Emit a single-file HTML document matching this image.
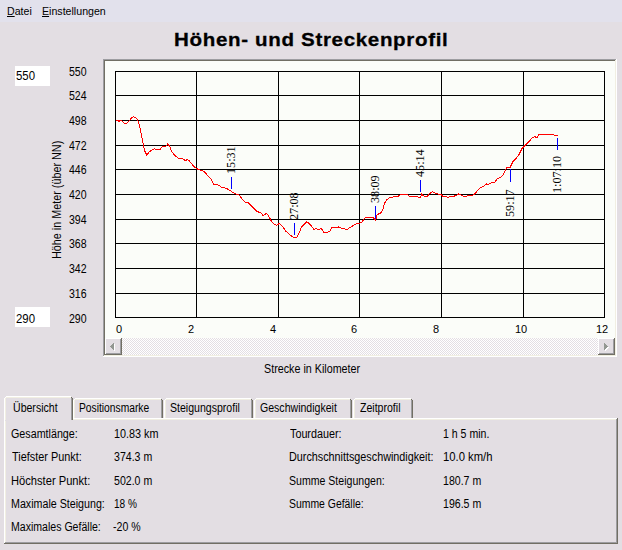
<!DOCTYPE html>
<html><head><meta charset="utf-8">
<style>
html,body{margin:0;padding:0;}
body{width:622px;height:550px;overflow:hidden;position:relative;background:#E3DEE3;font-family:"Liberation Sans",sans-serif;color:#000;}
.a{position:absolute;white-space:nowrap;}
.t{font-size:12px;line-height:12px;transform-origin:0 0;transform:scaleX(0.88);}
.m{font-size:11px;line-height:12px;transform-origin:0 0;transform:scaleX(0.965);}
.x{font-size:11px;line-height:12px;}
.d{transform:scaleX(0.95);}
.menu{position:absolute;left:0;top:0;width:622px;height:22px;background:#E2E1EC;}
.u{text-decoration:underline;}
.title{font-weight:bold;font-size:19px;line-height:20px;letter-spacing:0.62px;-webkit-text-stroke:0.3px #000;transform-origin:0 0;transform:scaleX(1.08);}
.box{position:absolute;}
.tl{font-family:"Liberation Serif",serif;font-size:13.5px;line-height:14px;transform-origin:0 0;transform:rotate(-90deg) scaleX(0.9);}
</style></head><body>
<div class="menu"></div>
<div class="a m" style="left:7px;top:5px;"><span class="u">D</span>atei</div>
<div class="a m" style="left:41.5px;top:5px;"><span class="u">E</span>instellungen</div>

<div class="a title" style="left:174px;top:30px;">Höhen- und Streckenprofil</div>

<!-- min/max boxes -->
<div class="box" style="left:15px;top:66px;width:35px;height:20px;background:#fff;"></div>
<div class="a t d" style="left:16px;top:70px;">550</div>
<div class="box" style="left:15px;top:307px;width:35px;height:20px;background:#fff;"></div>
<div class="a t d" style="left:16px;top:313px;">290</div>

<!-- y labels -->
<div class="a t" style="left:69px;top:66px;">550</div>
<div class="a t" style="left:69px;top:90px;">524</div>
<div class="a t" style="left:69px;top:115px;">498</div>
<div class="a t" style="left:69px;top:140px;">472</div>
<div class="a t" style="left:69px;top:164px;">446</div>
<div class="a t" style="left:69px;top:189px;">420</div>
<div class="a t" style="left:69px;top:214px;">394</div>
<div class="a t" style="left:69px;top:238px;">368</div>
<div class="a t" style="left:69px;top:263px;">342</div>
<div class="a t" style="left:69px;top:288px;">316</div>
<div class="a t" style="left:69px;top:313px;">290</div>

<!-- rotated y title -->
<div class="a t" style="left:51px;top:259px;transform-origin:0 0;transform:rotate(-90deg) scaleX(0.9);">Höhe in Meter (über NN)</div>

<!-- chart box -->
<div class="box" style="left:103px;top:59px;width:514px;height:298px;background:#fff;"></div>
<svg class="box" style="left:0;top:0;" width="622" height="550">
  <g shape-rendering="crispEdges">
    <rect x="103" y="59" width="513" height="1" fill="#9D9DA1"/>
    <rect x="103" y="59" width="1" height="297" fill="#9D9DA1"/>
    <rect x="104" y="60" width="511" height="1" fill="#716F64"/>
    <rect x="104" y="60" width="1" height="295" fill="#716F64"/>
    <rect x="616" y="59" width="1" height="298" fill="#FFFFFF"/>
    <rect x="103" y="356" width="514" height="1" fill="#FFFFFF"/>
    <rect x="615" y="60" width="1" height="296" fill="#F1EFE2"/>
    <rect x="104" y="355" width="512" height="1" fill="#F1EFE2"/>
    <rect x="105" y="61" width="510" height="294" fill="#FBFDF9"/>
    <!-- grid -->
    <g fill="#000">
      <rect x="115" y="71" width="1" height="247"/>
      <rect x="196" y="71" width="1" height="247"/>
      <rect x="278" y="71" width="1" height="247"/>
      <rect x="359" y="71" width="1" height="247"/>
      <rect x="441" y="71" width="1" height="247"/>
      <rect x="523" y="71" width="1" height="247"/>
      <rect x="604" y="71" width="1" height="247"/>
      <rect x="115" y="71" width="490" height="1"/>
      <rect x="115" y="95" width="490" height="1"/>
      <rect x="115" y="120" width="490" height="1"/>
      <rect x="115" y="145" width="490" height="1"/>
      <rect x="115" y="169" width="490" height="1"/>
      <rect x="115" y="194" width="490" height="1"/>
      <rect x="115" y="219" width="490" height="1"/>
      <rect x="115" y="243" width="490" height="1"/>
      <rect x="115" y="268" width="490" height="1"/>
      <rect x="115" y="293" width="490" height="1"/>
      <rect x="115" y="317" width="490" height="1"/>
    </g>
  </g>

  <path d="M115.9 120.6 L118.3 120.9 L119.1 121.9 L120.2 120.0 L121.7 120.6 L123.6 122.6 L125.8 124.0 L127.9 122.1 L129.9 120.1 L131.8 117.3 L133.7 116.8 L135.6 117.4 L137.1 119.2 L138.5 122.1 L140.0 127.9 L141.4 135.6 L142.9 142.3 L144.3 150.0 L146.7 154.9 L148.7 152.5 L150.6 151.0 L153.0 149.1 L154.9 148.9 L157.8 150.0 L160.2 149.1 L162.6 146.2 L165.1 146.7 L167.9 143.8 L169.9 146.7 L171.3 151.0 L174.1 154.8 L179.2 158.8 L183.1 159.0 L185.4 160.8 L187.1 159.7 L188.8 160.4 L192.1 164.4 L194.9 167.2 L197.8 169.1 L201.1 170.6 L203.9 171.1 L207.3 175.1 L210.7 178.5 L213.5 184.4 L217.5 184.6 L222.0 187.5 L225.9 188.2 L229.8 190.3 L233.8 193.1 L239.0 195.1 L244.6 201.8 L248.6 202.9 L251.9 206.3 L257.0 211.4 L261.5 213.1 L263.2 215.9 L264.9 214.2 L266.6 213.6 L268.3 215.3 L271.6 221.5 L275.0 224.9 L276.7 225.1 L279.5 223.5 L282.3 226.0 L285.7 231.1 L289.6 234.5 L293.6 237.5 L296.4 237.8 L299.2 232.8 L300.9 228.3 L302.5 225.9 L306.4 221.9 L308.7 223.1 L310.9 225.3 L313.8 229.3 L316.0 228.7 L318.8 229.8 L321.1 228.1 L323.9 232.6 L326.7 232.6 L329.5 231.5 L332.3 227.0 L335.7 227.6 L338.5 227.0 L341.3 228.1 L344.1 228.7 L347.0 229.8 L349.2 228.1 L352.0 226.4 L354.8 224.2 L358.8 223.6 L362.1 221.9 L365.5 217.3 L368.9 217.3 L373.3 217.7 L375.6 220.6 L376.7 215.0 L378.9 213.8 L381.2 212.7 L382.9 209.3 L384.6 203.1 L386.8 199.8 L389.6 197.5 L393.6 196.9 L398.1 196.4 L400.3 194.7 L404.3 194.7 L407.1 193.9 L409.3 196.2 L413.3 196.9 L417.8 196.9 L420.0 198.1 L421.7 194.1 L423.4 195.8 L425.6 196.9 L427.3 196.4 L429.6 193.6 L432.4 191.9 L435.2 193.0 L437.5 193.9 L440.8 194.3 L443.0 196.3 L447.5 197.1 L448.1 197.6 L449.8 196.7 L453.1 196.3 L456.5 195.6 L458.5 194.0 L461.0 194.8 L464.4 196.7 L467.8 195.9 L472.3 195.6 L474.5 194.3 L476.8 191.5 L479.6 188.4 L483.5 186.2 L486.3 183.9 L488.0 184.7 L491.4 182.8 L494.2 182.8 L497.0 179.1 L500.4 177.4 L503.8 174.0 L504.5 171.7 L506.8 167.8 L510.1 167.5 L512.9 161.6 L515.8 158.8 L519.1 154.3 L521.9 148.6 L524.8 145.8 L528.7 141.9 L532.1 137.9 L534.9 136.8 L537.1 137.6 L539.4 134.0 L542.8 134.0 L549.5 134.2 L550.6 134.9 L554.0 134.9 L556.3 135.7 L558.3 136.0" fill="none" stroke="#FF0000" stroke-width="1" shape-rendering="crispEdges"/>
  <g fill="#0000FF" shape-rendering="crispEdges">
    <rect x="231" y="177" width="1" height="12"/>
    <rect x="294" y="223" width="1" height="12"/>
    <rect x="375" y="206" width="1" height="13"/>
    <rect x="420" y="180" width="1" height="12"/>
    <rect x="510" y="169" width="1" height="13"/>
    <rect x="557" y="138" width="1" height="12"/>
  </g>
  <!-- scrollbar -->
  <defs>
    <pattern id="chk" x="0" y="0" width="2" height="2" patternUnits="userSpaceOnUse">
      <rect x="0" y="0" width="2" height="2" fill="#FFFFFF"/>
      <rect x="0" y="0" width="1" height="1" fill="#E3DEE3"/>
      <rect x="1" y="1" width="1" height="1" fill="#E3DEE3"/>
    </pattern>
  </defs>
  <g shape-rendering="crispEdges">
    <rect x="105" y="338" width="510" height="17" fill="url(#chk)"/>
    <!-- left button -->
    <rect x="105" y="338" width="17" height="17" fill="#716F64"/>
    <rect x="105" y="338" width="16" height="16" fill="#FFFFFF"/>
    <rect x="106" y="339" width="15" height="15" fill="#9D9DA1"/>
    <rect x="106" y="339" width="14" height="14" fill="#E3DEE3"/>
    <!-- right button -->
    <rect x="598" y="338" width="17" height="17" fill="#716F64"/>
    <rect x="598" y="338" width="16" height="16" fill="#FFFFFF"/>
    <rect x="599" y="339" width="15" height="15" fill="#9D9DA1"/>
    <rect x="599" y="339" width="14" height="14" fill="#E3DEE3"/>
  </g>
  <g shape-rendering="crispEdges">
    <!-- left arrow shadow -->
    <g fill="#FFFFFF">
      <rect x="114" y="344" width="1" height="7"/>
      <rect x="113" y="345" width="1" height="5"/>
      <rect x="112" y="346" width="1" height="3"/>
      <rect x="111" y="347" width="1" height="1"/>
    </g>
    <g fill="#939892">
      <rect x="113" y="343" width="1" height="7"/>
      <rect x="112" y="344" width="1" height="5"/>
      <rect x="111" y="345" width="1" height="3"/>
      <rect x="110" y="346" width="1" height="1"/>
    </g>
    <!-- right arrow shadow -->
    <g fill="#FFFFFF">
      <rect x="605" y="344" width="1" height="7"/>
      <rect x="606" y="345" width="1" height="5"/>
      <rect x="607" y="346" width="1" height="3"/>
      <rect x="608" y="347" width="1" height="1"/>
    </g>
    <g fill="#939892">
      <rect x="604" y="343" width="1" height="7"/>
      <rect x="605" y="344" width="1" height="5"/>
      <rect x="606" y="345" width="1" height="3"/>
      <rect x="607" y="346" width="1" height="1"/>
    </g>
  </g>
</svg>

<!-- x labels -->
<div class="a x" style="left:116px;top:323px;">0</div>
<div class="a x" style="left:188px;top:323px;">2</div>
<div class="a x" style="left:270px;top:323px;">4</div>
<div class="a x" style="left:351px;top:323px;">6</div>
<div class="a x" style="left:433px;top:323px;">8</div>
<div class="a x" style="left:515px;top:323px;">10</div>
<div class="a x" style="left:596px;top:323px;">12</div>

<!-- time labels -->
<div class="a tl" style="left:224px;top:174px;">15:31</div>
<div class="a tl" style="left:287px;top:220px;">27:08</div>
<div class="a tl" style="left:368px;top:203px;">38:09</div>
<div class="a tl" style="left:413px;top:177px;">45:14</div>
<div class="a tl" style="left:503px;top:217px;">59:17</div>
<div class="a tl" style="left:550px;top:193px;">1:07:10</div>

<!-- x title -->
<div class="a t" style="left:263.6px;top:363px;transform:scaleX(0.895);">Strecke in Kilometer</div>

<!-- panel -->
<svg class="box" style="left:0;top:0;" width="622" height="550">
 <g shape-rendering="crispEdges">
  <!-- panel border -->
  <rect x="4" y="418" width="614" height="126" fill="#716F64"/>
  <rect x="4" y="418" width="613" height="125" fill="#FFFFFF"/>
  <rect x="5" y="419" width="612" height="124" fill="#9D9DA1"/>
  <rect x="5" y="419" width="611" height="123" fill="#F1EFE2"/>
  <rect x="6" y="420" width="610" height="122" fill="#E3DEE3"/>
  <!-- unselected tabs -->
  <g>
   <rect x="75" y="398" width="86" height="1" fill="#FFFFFF"/>
   <rect x="74" y="399" width="1" height="1" fill="#FFFFFF"/>
   <rect x="73" y="400" width="1" height="18" fill="#FFFFFF"/>
   <rect x="75" y="399" width="86" height="1" fill="#F1EFE2"/>
   <rect x="74" y="400" width="1" height="18" fill="#F1EFE2"/>
   <rect x="161" y="399" width="1" height="1" fill="#716F64"/>
   <rect x="162" y="400" width="1" height="18" fill="#716F64"/>
   <rect x="161" y="400" width="1" height="18" fill="#9D9DA1"/>
   <rect x="166" y="398" width="85" height="1" fill="#FFFFFF"/>
   <rect x="165" y="399" width="1" height="1" fill="#FFFFFF"/>
   <rect x="164" y="400" width="1" height="18" fill="#FFFFFF"/>
   <rect x="166" y="399" width="85" height="1" fill="#F1EFE2"/>
   <rect x="165" y="400" width="1" height="18" fill="#F1EFE2"/>
   <rect x="251" y="399" width="1" height="1" fill="#716F64"/>
   <rect x="252" y="400" width="1" height="18" fill="#716F64"/>
   <rect x="251" y="400" width="1" height="18" fill="#9D9DA1"/>
   <rect x="256" y="398" width="94" height="1" fill="#FFFFFF"/>
   <rect x="255" y="399" width="1" height="1" fill="#FFFFFF"/>
   <rect x="254" y="400" width="1" height="18" fill="#FFFFFF"/>
   <rect x="256" y="399" width="94" height="1" fill="#F1EFE2"/>
   <rect x="255" y="400" width="1" height="18" fill="#F1EFE2"/>
   <rect x="350" y="399" width="1" height="1" fill="#716F64"/>
   <rect x="351" y="400" width="1" height="18" fill="#716F64"/>
   <rect x="350" y="400" width="1" height="18" fill="#9D9DA1"/>
   <rect x="355" y="398" width="56" height="1" fill="#FFFFFF"/>
   <rect x="354" y="399" width="1" height="1" fill="#FFFFFF"/>
   <rect x="353" y="400" width="1" height="18" fill="#FFFFFF"/>
   <rect x="355" y="399" width="56" height="1" fill="#F1EFE2"/>
   <rect x="354" y="400" width="1" height="18" fill="#F1EFE2"/>
   <rect x="411" y="399" width="1" height="1" fill="#716F64"/>
   <rect x="412" y="400" width="1" height="18" fill="#716F64"/>
   <rect x="411" y="400" width="1" height="18" fill="#9D9DA1"/>
  </g>
  <!-- selected tab -->
  <g>
   <rect x="5" y="397" width="66" height="24" fill="#E3DEE3"/>
   <rect x="6" y="396" width="65" height="1" fill="#FFFFFF"/>
   <rect x="5" y="397" width="1" height="1" fill="#FFFFFF"/>
   <rect x="4" y="398" width="1" height="22" fill="#FFFFFF"/>
   <rect x="6" y="397" width="65" height="1" fill="#F1EFE2"/>
   <rect x="5" y="398" width="1" height="22" fill="#F1EFE2"/>
   <rect x="71" y="397" width="1" height="1" fill="#716F64"/>
   <rect x="72" y="398" width="1" height="22" fill="#716F64"/>
   <rect x="71" y="398" width="1" height="22" fill="#9D9DA1"/>
  </g>
 </g>
</svg>

<div class="a t" style="left:13px;top:402px;">Übersicht</div>
<div class="a t" style="left:79px;top:402px;transform:scaleX(0.855);">Positionsmarke</div>
<div class="a t" style="left:170px;top:402px;">Steigungsprofil</div>
<div class="a t" style="left:260px;top:402px;">Geschwindigkeit</div>
<div class="a t" style="left:360px;top:402px;">Zeitprofil</div>

<div class="a t" style="left:10.98px;top:428px;transform:scaleX(0.894);">Gesamtlänge:</div>
<div class="a t" style="left:12.00px;top:451px;transform:scaleX(0.907);">Tiefster Punkt:</div>
<div class="a t" style="left:10.94px;top:475px;transform:scaleX(0.929);">Höchster Punkt:</div>
<div class="a t" style="left:10.99px;top:498px;transform:scaleX(0.890);">Maximale Steigung:</div>
<div class="a t" style="left:11.00px;top:521px;transform:scaleX(0.880);">Maximales Gefälle:</div>

<div class="a t" style="left:113.98px;top:428px;transform:scaleX(0.901);">10.83 km</div>
<div class="a t" style="left:114.00px;top:451px;transform:scaleX(0.881);">374.3 m</div>
<div class="a t" style="left:114.00px;top:475px;transform:scaleX(0.881);">502.0 m</div>
<div class="a t" style="left:114.05px;top:498px;transform:scaleX(0.840);">18 %</div>
<div class="a t" style="left:113.00px;top:521px;transform:scaleX(0.880);">-20 %</div>

<div class="a t" style="left:290.00px;top:428px;transform:scaleX(0.898);">Tourdauer:</div>
<div class="a t" style="left:288.98px;top:451px;transform:scaleX(0.899);">Durchschnittsgeschwindigkeit:</div>
<div class="a t" style="left:289.00px;top:475px;transform:scaleX(0.880);">Summe Steigungen:</div>
<div class="a t" style="left:289.01px;top:498px;transform:scaleX(0.868);">Summe Gefälle:</div>

<div class="a t" style="left:443.00px;top:428px;transform:scaleX(0.880);">1 h 5 min.</div>
<div class="a t" style="left:442.93px;top:451px;transform:scaleX(0.940);">10.0 km/h</div>
<div class="a t" style="left:443.00px;top:475px;transform:scaleX(0.881);">180.7 m</div>
<div class="a t" style="left:443.00px;top:498px;transform:scaleX(0.881);">196.5 m</div>

</body></html>
